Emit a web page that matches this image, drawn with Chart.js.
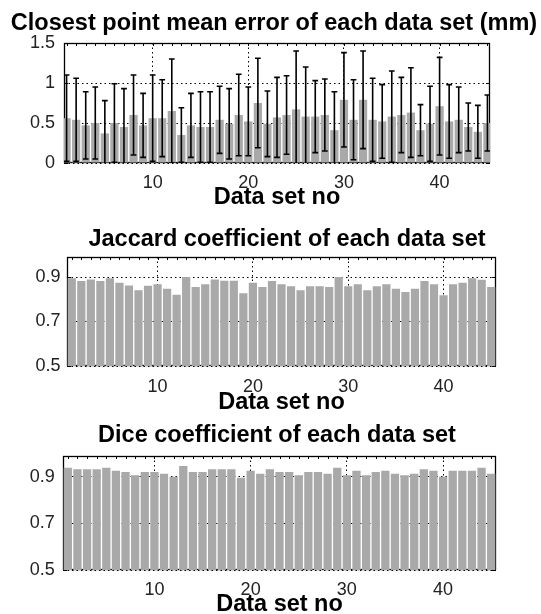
<!DOCTYPE html>
<html>
<head>
<meta charset="utf-8">
<script src="https://cdn.jsdelivr.net/npm/chart.js@4.4.1/dist/chart.umd.min.js"></script>
<style>
  html, body { margin: 0; padding: 0; background: #fff; }
  body { width: 541px; height: 614px; position: relative; overflow: hidden; }
  canvas { position: absolute; left: 0; }
</style>
</head>
<body>
<canvas id="c1" width="541" height="212" style="top:0px"></canvas>
<canvas id="c2" width="541" height="210" style="top:205px"></canvas>
<canvas id="c3" width="541" height="210" style="top:410px"></canvas>
<script>
// values, one per data set
const dataSetNo = [1, 2, 3, 4, 5, 6, 7, 8, 9, 10, 11, 12, 13, 14, 15, 16, 17, 18, 19, 20,
  21, 22, 23, 24, 25, 26, 27, 28, 29, 30, 31, 32, 33, 34, 35, 36, 37, 38, 39, 40,
  41, 42, 43, 44, 45];

const meanError = [0.56, 0.54, 0.47, 0.50, 0.37, 0.50, 0.45, 0.60, 0.47, 0.56,
  0.56, 0.65, 0.35, 0.47, 0.45, 0.45, 0.54, 0.49, 0.60, 0.52,
  0.75, 0.49, 0.57, 0.60, 0.67, 0.58, 0.58, 0.60, 0.41, 0.79,
  0.54, 0.79, 0.54, 0.52, 0.58, 0.60, 0.63, 0.41, 0.49, 0.71,
  0.52, 0.54, 0.45, 0.39, 0.50];

const errorStd = [0.54, 0.52, 0.42, 0.45, 0.41, 0.49, 0.48, 0.50, 0.40, 0.54,
  0.48, 0.65, 0.34, 0.40, 0.44, 0.44, 0.42, 0.44, 0.51, 0.43,
  0.56, 0.41, 0.50, 0.49, 0.73, 0.62, 0.45, 0.45, 0.48, 0.59,
  0.50, 0.61, 0.52, 0.46, 0.57, 0.47, 0.56, 0.32, 0.47, 0.61,
  0.46, 0.41, 0.30, 0.33, 0.35];

const jaccard = [0.895, 0.882, 0.889, 0.882, 0.894, 0.874, 0.862, 0.841, 0.861, 0.867,
  0.847, 0.820, 0.900, 0.855, 0.867, 0.889, 0.883, 0.883, 0.827, 0.874,
  0.855, 0.882, 0.867, 0.859, 0.841, 0.859, 0.859, 0.855, 0.900, 0.859,
  0.867, 0.841, 0.859, 0.867, 0.847, 0.833, 0.847, 0.882, 0.867, 0.818,
  0.867, 0.874, 0.895, 0.888, 0.855];

const dice = [0.940, 0.933, 0.933, 0.933, 0.940, 0.927, 0.921, 0.907, 0.921, 0.921,
  0.914, 0.901, 0.947, 0.921, 0.921, 0.933, 0.933, 0.933, 0.896, 0.927,
  0.914, 0.933, 0.921, 0.921, 0.907, 0.921, 0.921, 0.914, 0.940, 0.907,
  0.927, 0.907, 0.921, 0.927, 0.914, 0.907, 0.914, 0.933, 0.927, 0.901,
  0.927, 0.927, 0.927, 0.940, 0.914];

const xTickVals = [10, 20, 30, 40];
const errTickVals = [0, 0.5, 1, 1.5];
const coefTickVals = [0.5, 0.7, 0.9];

const BAR_GRAY = '#a9a9a9';
const BOLD = 'Liberation Sans';
const TITLE_SIZE = 23.5;
const TICK_SIZE = 18;
const MID = 0.3465; // distance from 'middle' to baseline, in em (Arial metrics)
const GRID_DASH = [1.5, 3];

// axes box with inward tick marks, drawn under the bars like matlab does
const boxPlugin = {
  id: 'matlabBox',
  beforeDatasetsDraw(chart) {
    const {ctx, chartArea: a} = chart;
    const xs = chart.scales.x, ys = chart.scales.y;
    ctx.save();
    ctx.strokeStyle = '#000';
    ctx.lineWidth = 1.3;
    ctx.strokeRect(a.left + 0.5, a.top + 0.5, a.width - 1, a.height - 1);
    ctx.lineWidth = 1;
    ctx.beginPath();
    dataSetNo.forEach(n => {
      const px = Math.round(xs.getPixelForValue(n)) + 0.5;
      if (px < a.left || px > a.right) return;
      ctx.moveTo(px, a.top); ctx.lineTo(px, a.top + 3);
      ctx.moveTo(px, a.bottom); ctx.lineTo(px, a.bottom - 3);
    });
    ys.ticks.forEach(t => {
      const py = Math.round(ys.getPixelForValue(t.value)) + 0.5;
      ctx.moveTo(a.left, py); ctx.lineTo(a.left + 4, py);
      ctx.moveTo(a.right, py); ctx.lineTo(a.right - 4, py);
    });
    ctx.stroke();
    ctx.restore();
  }
};

const errorBarPlugin = {
  id: 'errorBars',
  afterDatasetsDraw(chart, args, opts) {
    if (!opts.errors) return;
    const {ctx, chartArea: a} = chart;
    const xs = chart.scales.x, ys = chart.scales.y;
    ctx.save();
    ctx.beginPath();
    ctx.rect(a.left, a.top, a.width, a.height);
    ctx.clip();
    ctx.strokeStyle = '#000';
    ctx.lineWidth = 1.6;
    chart.data.datasets[0].data.forEach((d, i) => {
      const e = opts.errors[i];
      const px = xs.getPixelForValue(d.x);
      const half = xs.getPixelForValue(d.x + opts.cap) - px;
      const hi = ys.getPixelForValue(d.y + e);
      const lo = ys.getPixelForValue(d.y - e);
      ctx.beginPath();
      ctx.moveTo(px, hi); ctx.lineTo(px, lo);
      ctx.moveTo(px - half, hi); ctx.lineTo(px + half, hi);
      ctx.moveTo(px - half, lo); ctx.lineTo(px + half, lo);
      ctx.stroke();
    });
    ctx.restore();
  }
};

function makeChart(p) {
  const canvas = document.getElementById(p.id);
  const H = canvas.height;
  const top = p.area.top - p.top;
  const bottom = p.area.bottom - p.top;
  const lh = TITLE_SIZE * 1.2;
  const tCenter = p.titleBase - p.top - MID * TITLE_SIZE;
  const xlY = p.xlabelBase - p.top - MID * TITLE_SIZE;
  // the title box spans the canvas between the side paddings, so shift it with them
  const shift = 2 * p.titleCenter - 541;
  const padL = Math.max(shift, 0), padR = Math.max(-shift, 0);

  return new Chart(canvas, {
    type: 'bar',
    data: {
      datasets: [{
        data: dataSetNo.map((n, i) => ({x: n, y: p.values[i]})),
        backgroundColor: BAR_GRAY,
        borderWidth: 0,
        categoryPercentage: 1,
        barPercentage: 0.86
      }]
    },
    options: {
      responsive: false,
      animation: false,
      events: [],
      layout: {padding: {left: padL, right: padR, top: 0, bottom: 0}},
      plugins: {
        legend: {display: false},
        tooltip: {enabled: false},
        title: {
          display: true,
          text: p.title,
          color: '#000',
          font: {family: BOLD, weight: 'bold', size: TITLE_SIZE, lineHeight: 1.2},
          padding: {top: tCenter - lh / 2, bottom: top - (tCenter + lh / 2)}
        },
        errorBars: {errors: p.errors, cap: 0.3}
      },
      scales: {
        x: {
          type: 'linear',
          offset: false,
          min: p.xRange[0],
          max: p.xRange[1],
          afterFit: s => { s.height = H - bottom; },
          afterBuildTicks: s => { s.ticks = xTickVals.map(v => ({value: v})); },
          border: {display: false, dash: GRID_DASH},
          grid: {color: '#000', lineWidth: 1, drawTicks: false, offset: false},
          ticks: {
            padding: p.xTickPad,
            color: '#222',
            maxRotation: 0,
            font: {family: 'Liberation Sans', size: TICK_SIZE},
            callback: v => String(v)
          },
          title: {
            display: true,
            text: 'Data set no',
            color: '#000',
            font: {family: BOLD, weight: 'bold', size: TITLE_SIZE, lineHeight: 1},
            padding: {top: 0, bottom: H - TITLE_SIZE / 2 - xlY}
          }
        },
        y: {
          min: p.yRange[0],
          max: p.yRange[1],
          afterFit: s => { s.width = p.area.left - padL; },
          afterBuildTicks: s => { s.ticks = p.yTicks.map(v => ({value: v})); },
          border: {display: false, dash: GRID_DASH},
          grid: {color: '#000', lineWidth: 1, drawTicks: false},
          ticks: {
            padding: p.yTickPad,
            color: '#222',
            font: {family: 'Liberation Sans', size: TICK_SIZE},
            callback: v => String(v)
          }
        },
        // empty axis on the right, only to keep the plot box in place
        yRight: {
          type: 'linear',
          position: 'right',
          min: 0,
          max: 1,
          afterFit: s => { s.width = 541 - padR - p.area.right; },
          border: {display: false},
          grid: {display: false},
          ticks: {display: false}
        }
      }
    },
    plugins: [boxPlugin, errorBarPlugin]
  });
}

makeChart({
  id: 'c1', top: 0,
  area: {left: 64, right: 490, top: 43, bottom: 163},
  title: 'Closest point mean error of each data set (mm)',
  titleBase: 31.5, titleCenter: 274, xlabelBase: 206,
  values: meanError, errors: errorStd,
  xRange: [0.73, 45.27], yRange: [0, 1.5], yTicks: errTickVals,
  xTickPad: 9.5, yTickPad: 9
});

makeChart({
  id: 'c2', top: 205,
  area: {left: 67, right: 496, top: 257, bottom: 366},
  title: 'Jaccard coefficient of each data set',
  titleBase: 248, titleCenter: 287, xlabelBase: 411,
  values: jaccard, errors: null,
  xRange: [0.5, 45.5], yRange: [0.5, 0.99], yTicks: coefTickVals,
  xTickPad: 10, yTickPad: 6.5
});

makeChart({
  id: 'c3', top: 410,
  area: {left: 63, right: 496, top: 456, bottom: 570},
  title: 'Dice coefficient of each data set',
  titleBase: 444, titleCenter: 277, xlabelBase: 613,
  values: dice, errors: null,
  xRange: [0.5, 45.5], yRange: [0.5, 0.99], yTicks: coefTickVals,
  xTickPad: 9.2, yTickPad: 8.3
});
</script>
</body>
</html>
